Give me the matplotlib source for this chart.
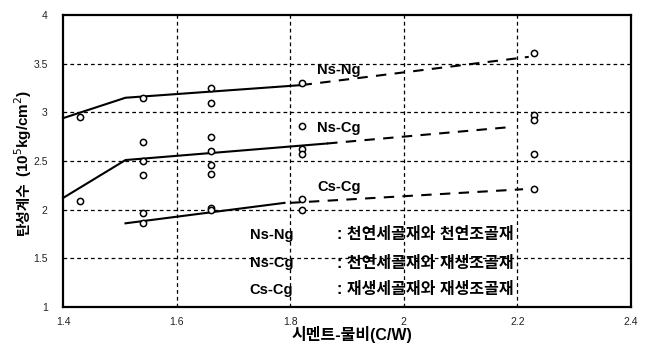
import matplotlib
matplotlib.use("Agg")
import matplotlib.pyplot as plt

plt.rcParams['font.family'] = ['Liberation Sans', 'Noto Sans CJK KR', 'DejaVu Sans']

# Measured elastic modulus (10^5 kg/cm^2) versus cement-water ratio
ns_ng_cw = [1.43, 1.54, 1.66, 1.66, 1.82, 2.23]
ns_ng_e = [2.95, 3.15, 3.25, 3.10, 3.30, 3.61]

ns_cg_cw = [1.54, 1.54, 1.54, 1.66, 1.66, 1.66, 1.66, 1.82, 1.82, 1.82, 2.23, 2.23, 2.23]
ns_cg_e = [2.70, 2.50, 2.36, 2.75, 2.60, 2.46, 2.37, 2.86, 2.62, 2.57, 2.97, 2.92, 2.57]

cs_cg_cw = [1.43, 1.54, 1.54, 1.66, 1.66, 1.82, 1.82, 2.23]
cs_cg_e = [2.09, 1.97, 1.86, 2.02, 2.00, 2.11, 2.00, 2.21]

# Trend lines: measured range (solid) and extrapolated range (dashed)
ns_ng_fit_cw = [1.40, 1.51, 1.82]
ns_ng_fit_e = [2.94, 3.15, 3.28]
ns_ng_ext_cw = [1.82, 2.22]
ns_ng_ext_e = [3.28, 3.57]

ns_cg_fit_cw = [1.40, 1.51, 1.865]
ns_cg_fit_e = [2.12, 2.51, 2.68]
ns_cg_ext_cw = [1.865, 2.19]
ns_cg_ext_e = [2.68, 2.85]

cs_cg_fit_cw = [1.51, 1.79]
cs_cg_fit_e = [1.86, 2.07]
cs_cg_ext_cw = [1.80, 2.21]
cs_cg_ext_e = [2.07, 2.21]

series_names = ["Ns-Ng", "Ns-Cg", "Cs-Cg"]
series_desc = [": 천연세골재와 천연조골재", ": 천연세골재와 재생조골재", ": 재생세골재와 재생조골재"]

x_ticks = [1.4, 1.6, 1.8, 2.0, 2.2, 2.4]
x_tick_labels = ["1.4", "1.6", "1.8", "2", "2.2", "2.4"]
y_ticks = [1, 1.5, 2, 2.5, 3, 3.5, 4]
y_tick_labels = ["1", "1.5", "2", "2.5", "3", "3.5", "4"]

fig = plt.figure(figsize=(6.51, 3.49), dpi=100)
ax = fig.add_axes([0.0968, 0.1203, 0.8724, 0.8367])

ax.set_xlim(1.4, 2.4)
ax.set_ylim(1, 4)
ax.set_xticks(x_ticks)
ax.set_xticklabels(x_tick_labels, fontsize=7.5, color='#222222')
ax.set_yticks(y_ticks)
ax.set_yticklabels(y_tick_labels, fontsize=7.5, color='#222222')
ax.tick_params(axis='x', length=0, pad=7.5)
ax.tick_params(axis='y', length=0, pad=11)

for v in [1.6, 1.8, 2.0, 2.2]:
    ax.axvline(v, color='black', lw=0.9, ls=(0, (3, 2.5)), zorder=1)
for v in [1.5, 2.0, 2.5, 3.0, 3.5]:
    ax.axhline(v, color='black', lw=0.9, ls=(0, (3, 2.5)), zorder=1)

for s in ax.spines.values():
    s.set_linewidth(1.6)

mk = dict(ls='none', marker='o', ms=4.5, mfc='white', mec='black', mew=1.1, zorder=4)
ax.plot(ns_ng_cw, ns_ng_e, **mk)
ax.plot(ns_cg_cw, ns_cg_e, **mk)
ax.plot(cs_cg_cw, cs_cg_e, **mk)

for fx, fy, ex, ey in [(ns_ng_fit_cw, ns_ng_fit_e, ns_ng_ext_cw, ns_ng_ext_e),
                       (ns_cg_fit_cw, ns_cg_fit_e, ns_cg_ext_cw, ns_cg_ext_e),
                       (cs_cg_fit_cw, cs_cg_fit_e, cs_cg_ext_cw, cs_cg_ext_e)]:
    ax.plot(fx, fy, color='black', lw=1.5, zorder=3, clip_on=False)
    ax.plot(ex, ey, color='black', lw=1.5, ls=(0, (5, 4)), zorder=3)

# Curve labels
for name, yy in zip(series_names, [3.435, 2.84, 2.233]):
    ax.text(1.847, yy, name, fontsize=10.5, fontweight='bold', ha='left', va='center')

# Key
key_y = [1.74, 1.452, 1.175]
for name, desc, yy in zip(series_names, series_desc, key_y):
    ax.text(1.729, yy, name, fontsize=10.5, fontweight='bold', ha='left', va='center')
    ax.text(1.882, yy, desc, fontsize=11.5, fontweight='bold', ha='left', va='center')

fig.text(0.54, 0.026, "시멘트-물비(C/W)", fontsize=11.5, fontweight='bold',
         ha='center', va='baseline')

# Y axis title in two pieces: Korean words and the unit
fig.text(0.035, 0.327, "탄성계수", fontsize=10.5, fontweight='bold',
         family=['Noto Sans CJK KR'], ha='center', va='bottom', rotation=90)
fig.text(0.035, 0.742, "(10$^5$kg/cm$^2$)", fontsize=11, fontweight='bold',
         ha='center', va='top', rotation=90)

fig.savefig("out.png", dpi=100)
